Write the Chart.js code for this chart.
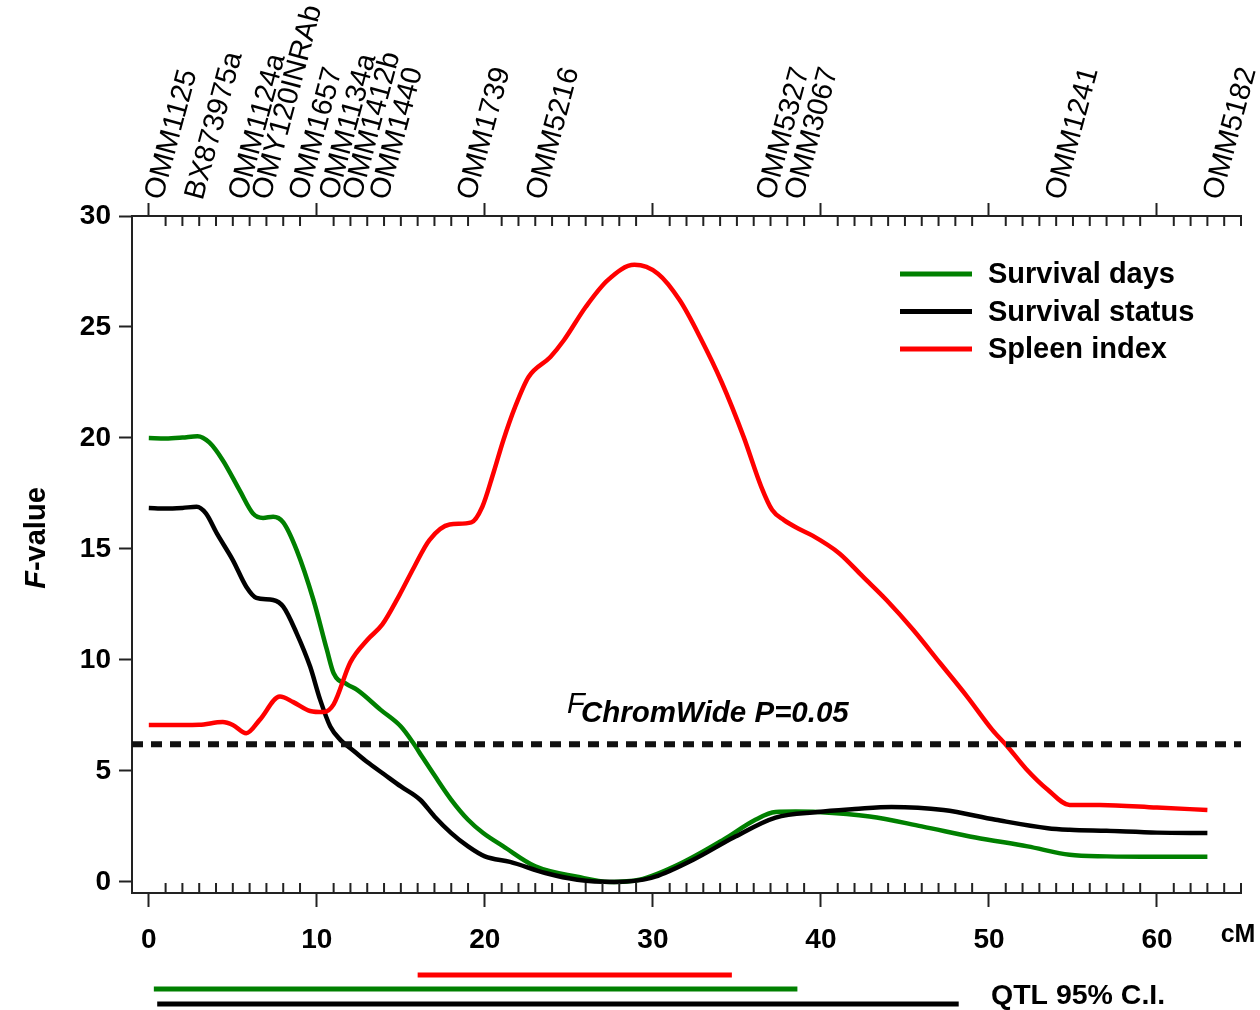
<!DOCTYPE html>
<html>
<head>
<meta charset="utf-8">
<script src="https://cdn.jsdelivr.net/npm/chart.js@4.4.1/dist/chart.umd.min.js"></script>
<style>
    html, body { margin: 0; padding: 0; background: #fff; }
    #wrap { width: 1260px; height: 1010px; }
</style>
</head>
<body>
<div id="wrap"><canvas id="qtl-chart" width="1260" height="1010"></canvas></div>
<script>
// Survival days (green)
const daysCM = [0, 1, 2, 2.9, 3.6, 4.4, 5.4, 6.2, 6.8, 7.4, 8.0, 8.8, 9.8, 10.6, 11.0, 11.8, 12.4, 13.8, 15.0, 15.7, 16.3, 17.0, 18.0, 19.0, 19.9, 21.1, 23.0, 25.5, 27.4, 29.2, 31.7, 34.2, 36.1, 37.3, 38.5, 39.8, 42.9, 46.0, 49.2, 52.3, 54.8, 57, 60, 63];
const daysF = [20.0, 19.98, 20.02, 20.08, 19.8, 19.0, 17.65, 16.6, 16.4, 16.45, 16.2, 14.95, 12.7, 10.45, 9.4, 8.9, 8.65, 7.75, 7.0, 6.3, 5.6, 4.8, 3.7, 2.8, 2.2, 1.6, 0.7, 0.23, 0.0, 0.1, 0.85, 1.9, 2.8, 3.15, 3.17, 3.15, 2.95, 2.5, 2.0, 1.6, 1.22, 1.15, 1.13, 1.13];

// Survival status (black)
const statusCM = [0, 1, 2, 2.85, 3.4, 4.05, 5.0, 5.8, 6.4, 7.4, 8.0, 8.8, 9.6, 10.2, 10.8, 11.4, 12.2, 13.0, 14.0, 15.0, 16.15, 17.0, 18.0, 19.0, 20.0, 21.5, 23.6, 25.5, 27.7, 29.9, 32.4, 34.8, 37.3, 39.8, 42.0, 44.2, 47.3, 50.4, 53.5, 54.8, 57, 60, 63];
const statusF = [16.85, 16.82, 16.85, 16.9, 16.6, 15.7, 14.5, 13.3, 12.8, 12.7, 12.4, 11.2, 9.7, 8.2, 7.0, 6.4, 5.9, 5.4, 4.85, 4.3, 3.7, 2.95, 2.2, 1.6, 1.15, 0.9, 0.4, 0.1, 0.0, 0.18, 1.0, 2.0, 2.9, 3.15, 3.28, 3.38, 3.24, 2.8, 2.42, 2.35, 2.3, 2.22, 2.2];

// Spleen index (red)
const spleenCM = [0, 1, 2, 3, 4.4, 5.0, 5.8, 6.6, 7.8, 8.6, 9.6, 10.4, 11.0, 12.0, 13.0, 13.9, 14.9, 15.8, 16.7, 17.9, 19.2, 19.85, 20.5, 21.1, 21.8, 22.6, 23.9, 24.7, 26.0, 27.3, 28.9, 30.3, 31.6, 32.8, 34.1, 35.4, 36.45, 37.1, 37.8, 38.7, 39.5, 41.1, 42.5, 43.9, 45.5, 47.1, 48.7, 50.2, 51.1, 52.2, 53.5, 54.8, 56.6, 60, 63];
const spleenF = [7.07, 7.07, 7.07, 7.08, 7.2, 7.07, 6.7, 7.3, 8.35, 8.1, 7.7, 7.65, 8.0, 9.9, 10.9, 11.6, 12.9, 14.2, 15.4, 16.1, 16.2, 16.9, 18.4, 19.9, 21.4, 22.75, 23.65, 24.4, 25.9, 27.1, 27.8, 27.4, 26.2, 24.55, 22.5, 20.05, 17.8, 16.75, 16.3, 15.9, 15.6, 14.8, 13.75, 12.7, 11.35, 9.85, 8.35, 6.85, 6.1, 5.1, 4.15, 3.47, 3.47, 3.35, 3.24];

// chromosome-wide threshold
const thresholdF = 6.2;

// QTL 95% confidence intervals (cM)
const ciSeries = ["Spleen index", "Survival days", "Survival status"];
const ciLow = [16.0, 0.3, 0.5];
const ciHigh = [34.7, 38.6, 48.2];

// markers on top axis (cM)
const markerNames = ["OMM1125", "BX873975a", "OMM1124a", "OMY120INRAb", "OMM1657", "OMM1134a", "OMM1412b", "OMM1440", "OMM1739", "OMM5216", "OMM5327", "OMM3067", "OMM1241", "OMM5182"];
const markerCM = [0.8, 3.2, 5.8, 7.2, 9.4, 11.2, 12.6, 14.2, 19.4, 23.5, 37.2, 38.9, 54.4, 63.8];

const xMin = -1;
const xMax = 65;
const yMin = -0.5;
const yMax = 30;

const FONT = "'Liberation Sans', Arial, Helvetica, sans-serif";
const GREEN = "rgb(0, 128, 0)";
const RED = "rgb(255, 0, 0)";
const BLACK = "#000";
const AXIS = "#222";

const toPoints = (xs, ys) => xs.map((x, i) => ({ x, y: ys[i] }));

const lineSet = (label, xs, ys, color, order) => ({
    label,
    data: toPoints(xs, ys),
    borderColor: color,
    backgroundColor: color,
    borderWidth: 4.5,
    pointRadius: 0,
    cubicInterpolationMode: "monotone",
    order
});

const decor = {
    id: "decor",
    afterDraw(chart) {
        const { ctx, chartArea, scales } = chart;
        const x = scales.x;
        ctx.save();

        // minor ticks, inside, both x axes
        ctx.strokeStyle = AXIS;
        ctx.lineWidth = 2;
        ctx.beginPath();
        for (let v = 1; v <= xMax; v++) {
            if (v % 10 === 0) continue;
            const px = x.getPixelForValue(v);
            ctx.moveTo(px, chartArea.bottom);
            ctx.lineTo(px, chartArea.bottom - 10);
            ctx.moveTo(px, chartArea.top);
            ctx.lineTo(px, chartArea.top + 10);
        }
        ctx.stroke();

        // marker names
        ctx.fillStyle = BLACK;
        ctx.font = `29px ${FONT}`;
        ctx.textAlign = "left";
        ctx.textBaseline = "alphabetic";
        markerNames.forEach((name, i) => {
            ctx.save();
            ctx.translate(x.getPixelForValue(markerCM[i]), 201);
            ctx.rotate(-75 * Math.PI / 180);
            ctx.fillText(name, 0, 0);
            ctx.restore();
        });

        // y title
        ctx.save();
        ctx.translate(45, 538);
        ctx.rotate(-Math.PI / 2);
        ctx.font = `italic bold 29px ${FONT}`;
        const wF = ctx.measureText("F").width;
        ctx.font = `bold 29px ${FONT}`;
        const wRest = ctx.measureText("-value").width;
        const start = -(wF + wRest) / 2;
        ctx.font = `italic bold 29px ${FONT}`;
        ctx.fillText("F", start, 0);
        ctx.font = `bold 29px ${FONT}`;
        ctx.fillText("-value", start + wF, 0);
        ctx.restore();

        // cM unit
        ctx.font = `bold 25px ${FONT}`;
        ctx.textAlign = "center";
        ctx.fillText("cM", 1238, 942);

        // threshold label
        const yT = scales.y.getPixelForValue(thresholdF);
        ctx.textAlign = "left";
        ctx.font = `italic 29px ${FONT}`;
        ctx.fillText("F", 567, yT - 31);
        ctx.font = `italic bold 29.5px ${FONT}`;
        ctx.fillText("ChromWide P=0.05", 581, yT - 22);

        // legend
        const legendRows = [0, 1, 2];
        legendRows.forEach(i => {
            const ds = chart.data.datasets[i];
            const ly = 274 + i * 37.5;
            ctx.strokeStyle = ds.borderColor;
            ctx.lineWidth = 5;
            ctx.beginPath();
            ctx.moveTo(900, ly);
            ctx.lineTo(972, ly);
            ctx.stroke();
            ctx.font = `bold 29px ${FONT}`;
            ctx.textBaseline = "middle";
            ctx.fillStyle = BLACK;
            ctx.fillText(ds.label, 988, ly + 1);
        });

        // QTL confidence bars
        const barY = [975, 989, 1004];
        ciSeries.forEach((name, i) => {
            const ds = chart.data.datasets.find(d => d.label === name);
            ctx.strokeStyle = ds.borderColor;
            ctx.lineWidth = 5;
            ctx.beginPath();
            ctx.moveTo(x.getPixelForValue(ciLow[i]), barY[i]);
            ctx.lineTo(x.getPixelForValue(ciHigh[i]), barY[i]);
            ctx.stroke();
        });
        ctx.fillStyle = BLACK;
        ctx.font = `bold 28.5px ${FONT}`;
        ctx.textBaseline = "middle";
        ctx.fillText("QTL 95% C.I.", 991, 996);

        ctx.restore();
    }
};

const ctx = document.getElementById("qtl-chart").getContext("2d");

new Chart(ctx, {
    type: "line",
    data: {
        datasets: [
            lineSet("Survival days", daysCM, daysF, GREEN, 3),
            lineSet("Survival status", statusCM, statusF, BLACK, 2),
            lineSet("Spleen index", spleenCM, spleenF, RED, 1),
            {
                label: "threshold",
                data: [{ x: xMin, y: thresholdF }, { x: xMax, y: thresholdF }],
                borderColor: "#111",
                borderWidth: 6,
                borderDash: [11, 8],
                pointRadius: 0,
                order: 0
            }
        ]
    },
    options: {
        responsive: false,
        animation: false,
        devicePixelRatio: 1,
        layout: {
            padding: { left: 0, right: 19, top: 0, bottom: 0 }
        },
        plugins: {
            legend: { display: false },
            tooltip: { enabled: false }
        },
        scales: {
            x: {
                type: "linear",
                position: "bottom",
                min: xMin,
                max: xMax,
                afterFit: axis => { axis.height = 117; },
                ticks: {
                    stepSize: 10,
                    includeBounds: false,
                    color: BLACK,
                    padding: 16,
                    maxRotation: 0,
                    font: { family: FONT, size: 28, weight: "bold" }
                },
                grid: {
                    drawOnChartArea: false,
                    tickLength: 14,
                    tickWidth: 2,
                    tickColor: AXIS
                },
                border: { display: true, color: AXIS, width: 2 }
            },
            xTop: {
                type: "linear",
                position: "top",
                min: xMin,
                max: xMax,
                afterFit: axis => { axis.height = 216; },
                ticks: {
                    stepSize: 10,
                    includeBounds: false,
                    display: false
                },
                grid: {
                    drawOnChartArea: false,
                    tickLength: 13,
                    tickWidth: 2,
                    tickColor: AXIS
                },
                border: { display: true, color: AXIS, width: 2 }
            },
            y: {
                min: yMin,
                max: yMax,
                afterFit: axis => { axis.width = 132; },
                ticks: {
                    stepSize: 5,
                    includeBounds: false,
                    color: BLACK,
                    padding: 8,
                    font: { family: FONT, size: 28, weight: "bold" }
                },
                grid: {
                    drawOnChartArea: false,
                    tickLength: 13,
                    tickWidth: 2,
                    tickColor: AXIS
                },
                border: { display: true, color: AXIS, width: 2 }
            }
        }
    },
    plugins: [decor]
});
</script>
</body>
</html>
